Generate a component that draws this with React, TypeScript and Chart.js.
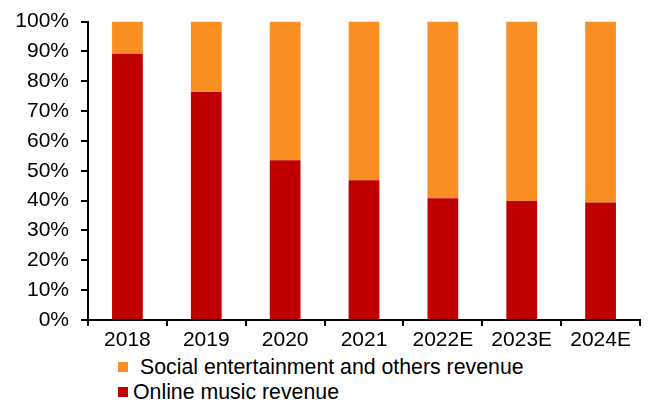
import React, { useEffect, useRef } from "react";
import { Chart, registerables } from "chart.js";
Chart.register(...registerables);

const categories = ["2018", "2019", "2020", "2021", "2022E", "2023E", "2024E"];
const onlineMusic = [89.2, 76.4, 53.5, 46.8, 40.8, 39.9, 39.4];
const socialEntertainment = [10.8, 23.6, 46.5, 53.2, 59.2, 60.1, 60.6];
const seriesNames = ["Social entertainment and others revenue", "Online music revenue"];
const RED = "#C00000";
const ORANGE = "#F98E22";
const FONT = "'Liberation Sans', Arial, sans-serif";

export default function App() {
  const ref = useRef<HTMLCanvasElement | null>(null);
  useEffect(() => {
    if (!ref.current) return;
    const chart = new Chart(ref.current, {
      type: "bar",
      data: {
        labels: categories,
        datasets: [
          { label: seriesNames[1], data: onlineMusic, backgroundColor: RED, borderWidth: 0 },
          { label: seriesNames[0], data: socialEntertainment, backgroundColor: ORANGE, borderWidth: 0 },
        ],
      },
      options: {
        animation: false,
        responsive: false,
        maintainAspectRatio: false,
        layout: { padding: { top: 21, right: 9, left: 0, bottom: 0 } },
        datasets: { bar: { categoryPercentage: 1, barPercentage: 0.39 } },
        plugins: { legend: { display: false }, tooltip: { enabled: false } },
        scales: {
          x: {
            stacked: true,
            afterFit: (s: any) => { s.height = 30; },
            grid: { drawOnChartArea: false, drawTicks: true, tickLength: 6, color: "#000", lineWidth: 2, offset: true },
            border: { display: true, color: "#000", width: 2 },
            ticks: { color: "#000", font: { family: FONT, size: 21 }, padding: 2 },
          },
          y: {
            stacked: true,
            min: 0,
            max: 100,
            afterFit: (s: any) => { s.width = 88; },
            grid: { drawOnChartArea: false, drawTicks: true, tickLength: 7, color: "#000", lineWidth: 2 },
            border: { display: true, color: "#000", width: 2 },
            ticks: {
              stepSize: 10,
              color: "#000",
              padding: 12,
              font: { family: FONT, size: 21 },
              callback: (v: any) => v + "%",
            },
          },
        },
      },
    });
    return () => chart.destroy();
  }, []);

  const legendRow = (color: string, text: string, top: number, textLeft: number) => (
    <div style={{ position: "absolute", left: 0, top, height: 24, width: 649 }}>
      <span style={{ position: "absolute", left: 118, top: 7, width: 10, height: 10, background: color }} />
      <span style={{ position: "absolute", left: textLeft, top: 0, lineHeight: "24px", fontFamily: FONT, fontSize: 21.3, color: "#000", whiteSpace: "nowrap" }}>{text}</span>
    </div>
  );

  return (
    <div style={{ position: "fixed", left: 0, top: 0, width: 649, height: 403, background: "#fff", overflow: "hidden" }}>
      <canvas ref={ref} width={649} height={353} style={{ position: "absolute", left: 0, top: -3 }} />
      {legendRow(ORANGE, seriesNames[0], 355, 140)}
      {legendRow(RED, seriesNames[1], 380, 133)}
    </div>
  );
}
